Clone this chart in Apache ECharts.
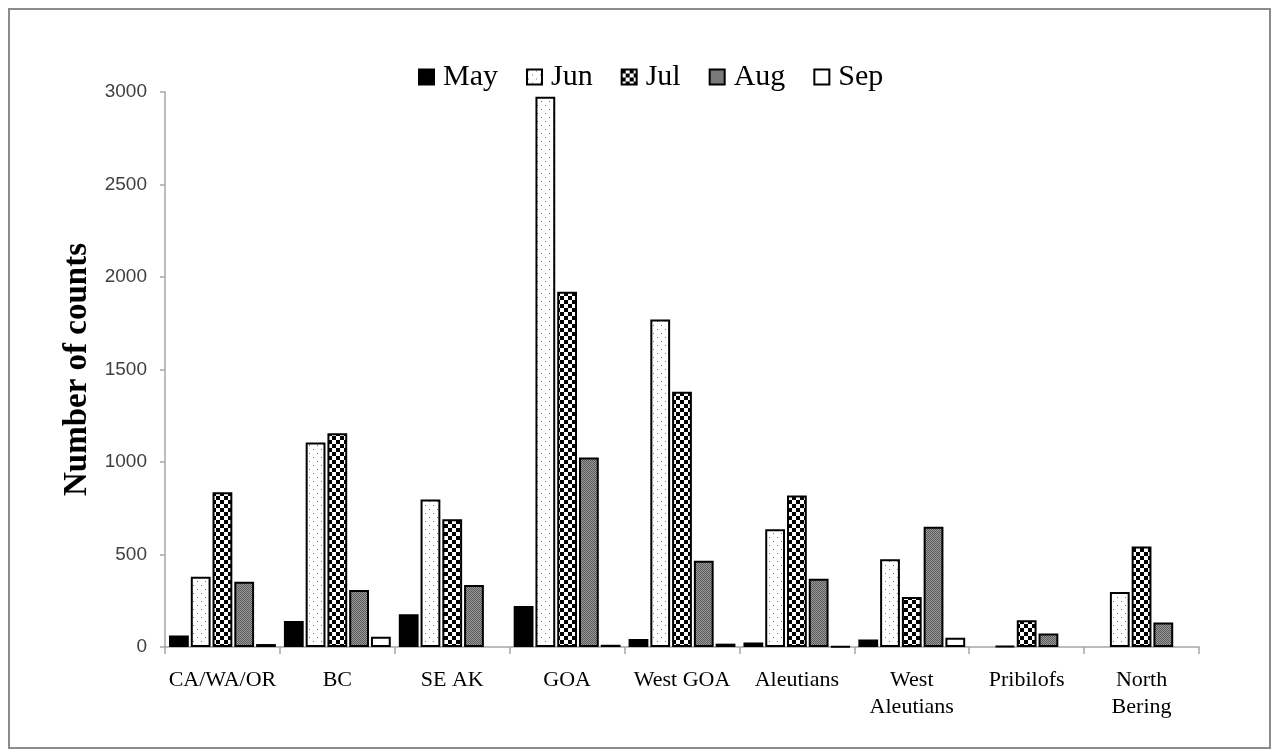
<!DOCTYPE html>
<html>
<head>
<meta charset="utf-8">
<script src="https://cdn.jsdelivr.net/npm/echarts@6/dist/echarts.min.js"></script>
<style>
html,body{margin:0;padding:0;background:#fff;}
#chart{width:1279px;height:756px;}
</style>
</head>
<body>
<div id="chart"></div>
<script>
// ---- data ----
const categories = ['CA/WA/OR', 'BC', 'SE AK', 'GOA', 'West GOA', 'Aleutians', 'West\nAleutians', 'Pribilofs', 'North\nBering'];
const monthNames = ['May', 'Jun', 'Jul', 'Aug', 'Sep'];
const may = [62, 140, 177, 222, 43, 25, 40, 0, 0];
const jun = [380, 1105, 797, 2975, 1770, 637, 475, 5, 297];
const jul = [837, 1155, 690, 1920, 1380, 819, 270, 144, 543];
const aug = [353, 308, 335, 1025, 466, 369, 650, 73, 133];
const sep = [16, 55, 0, 12, 18, 3, 50, 0, 0];
const yTicks = [0, 500, 1000, 1500, 2000, 2500, 3000];

// ---- fill patterns ----
function makePattern(size, draw) {
  const c = document.createElement('canvas');
  c.width = size; c.height = size;
  const ctx = c.getContext('2d');
  draw(ctx, size);
  return { image: c, repeat: 'repeat' };
}
const fills = [
  '#000000',
  makePattern(8, function (ctx, s) {
    ctx.fillStyle = '#ffffff'; ctx.fillRect(0, 0, s, s);
    ctx.fillStyle = '#777777';
    ctx.fillRect(1, 1, 1, 1); ctx.fillRect(5, 5, 1, 1);
  }),
  makePattern(8, function (ctx, s) {
    ctx.fillStyle = '#ffffff'; ctx.fillRect(0, 0, s, s);
    ctx.fillStyle = '#000000';
    ctx.fillRect(0, 0, 4, 4); ctx.fillRect(4, 4, 4, 4);
  }),
  makePattern(2, function (ctx, s) {
    ctx.fillStyle = '#9a9a9a'; ctx.fillRect(0, 0, s, s);
    ctx.fillStyle = '#5a5a5a';
    ctx.fillRect(0, 0, 1, 1); ctx.fillRect(1, 1, 1, 1);
  }),
  '#ffffff'
];
const seriesValues = [may, jun, jul, aug, sep];

const chart = echarts.init(document.getElementById('chart'), null, { renderer: 'canvas' });
const option = {
  animation: false,
  backgroundColor: '#ffffff',
  graphic: [{
    type: 'rect',
    shape: { x: 9, y: 9, width: 1261, height: 739 },
    style: { fill: 'none', stroke: '#8c8c8c', lineWidth: 2 },
    silent: true
  }],
  legend: {
    left: 413,
    top: 57,
    icon: 'rect',
    itemWidth: 15,
    itemHeight: 15,
    itemGap: 28,
    textStyle: { fontFamily: 'Liberation Serif', fontSize: 30, color: '#000', padding: [0, 0, 0, 4] },
    data: monthNames
  },
  grid: { left: 165, right: 80, top: 92, bottom: 109, containLabel: false },
  xAxis: {
    type: 'category',
    data: categories,
    axisLine: { show: true, lineStyle: { color: '#a6a6a6', width: 1.5 } },
    axisTick: { show: true, alignWithLabel: false, length: 7, lineStyle: { color: '#a6a6a6', width: 1.5 } },
    axisLabel: { fontFamily: 'Liberation Serif', fontSize: 22, color: '#000', margin: 20, lineHeight: 27, interval: 0 }
  },
  yAxis: {
    type: 'value',
    min: 0,
    max: 3000,
    interval: 500,
    name: 'Number of counts',
    nameLocation: 'middle',
    nameGap: 61,
    nameTextStyle: { fontFamily: 'Liberation Serif', fontWeight: 'bold', fontSize: 33, color: '#000' },
    axisLine: { show: true, lineStyle: { color: '#a6a6a6', width: 1.5 } },
    axisTick: { show: true, length: 5, lineStyle: { color: '#a6a6a6', width: 1.5 } },
    axisLabel: {
      fontFamily: 'Liberation Sans', fontSize: 19, color: '#404040', margin: 18,
      formatter: function (v) { return yTicks.indexOf(v) >= 0 ? String(v) : ''; }
    },
    splitLine: { show: false }
  },
  series: monthNames.map(function (name, i) {
    return {
      name: name,
      type: 'bar',
      barGap: '10%',
      barCategoryGap: '7%',
      data: seriesValues[i].map(function (v) { return v === 0 ? null : v; }),
      itemStyle: { color: fills[i], borderColor: '#000000', borderWidth: 2 },
      emphasis: { disabled: true }
    };
  })
};
chart.setOption(option);
</script>
</body>
</html>
